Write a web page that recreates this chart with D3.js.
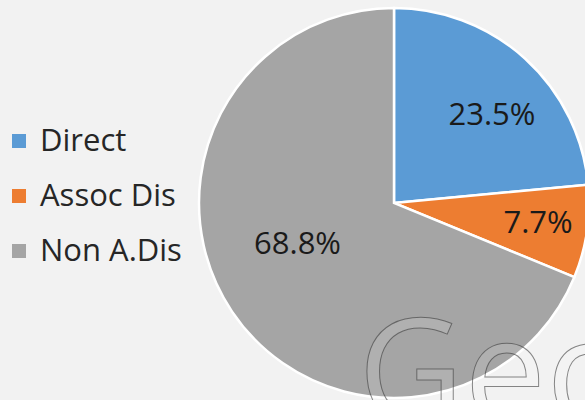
<!DOCTYPE html>
<html>
<head>
<meta charset="utf-8">
<script src="https://cdn.jsdelivr.net/npm/d3@7"></script>
<style>
  html, body { margin: 0; padding: 0; background: #f2f2f2; overflow: hidden; }
  svg { display: block; font-family: "Open Sans", "Noto Sans", sans-serif; }
</style>
</head>
<body>
<script>
// chart data
var categories = ["Direct", "Assoc Dis", "Non A.Dis"];
var shares = [23.5, 7.7, 68.8];
var colours = ["#5b9bd5", "#ed7d31", "#a5a5a5"];

var w = 585, h = 400,
    cx = 394, cy = 203,
    radius = 195;

var svg = d3.select("body").append("svg")
    .attr("width", w)
    .attr("height", h);

svg.append("rect")
    .attr("width", w)
    .attr("height", h)
    .attr("fill", "#f2f2f2");

var data = categories.map(function (c, i) { return { name: c, value: shares[i] }; });

var pie = d3.pie().sort(null).value(function (d) { return d.value; });
var arc = d3.arc().innerRadius(0).outerRadius(radius);

var g = svg.append("g").attr("transform", "translate(" + cx + "," + cy + ")");

var colour = d3.scaleOrdinal().domain(categories).range(colours);

g.selectAll("path.slice")
    .data(pie(data))
  .enter().append("path")
    .attr("class", "slice")
    .attr("d", arc)
    .attr("fill", function (d) { return colour(d.data.name); })
    .attr("stroke", "#ffffff")
    .attr("stroke-width", 2.5)
    .attr("stroke-linejoin", "miter");

/* data labels, near each slice's bisector (radius fraction, angle nudge in degrees) */
var labelRadius = [0.68, 0.745, 0.535];
var labelNudge = [5.3, -1, 11.5];
var fmt = function (v) { return v.toFixed(1) + "%"; };

g.selectAll("text.lbl")
    .data(pie(data))
  .enter().append("text")
    .attr("class", "lbl")
    .attr("text-anchor", "middle")
    .attr("font-size", 31)
    .attr("fill", "#1a1a1a")
    .attr("transform", function (d, i) {
      var a = (d.startAngle + d.endAngle) / 2 + labelNudge[i] * Math.PI / 180;
      var r = radius * labelRadius[i];
      return "translate(" + (Math.sin(a) * r) + "," + (-Math.cos(a) * r) + ")";
    })
    .attr("dy", "0.36em")
    .text(function (d) { return fmt(d.data.value); });

/* legend */
var legendY = d3.scalePoint().domain(categories).range([141, 251]);

var leg = svg.selectAll("g.legend")
    .data(categories)
  .enter().append("g")
    .attr("class", "legend")
    .attr("transform", function (d) { return "translate(0," + legendY(d) + ")"; });

leg.append("rect")
    .attr("x", 12)
    .attr("y", -7)
    .attr("width", 14)
    .attr("height", 14)
    .attr("fill", function (d) { return colour(d); });

leg.append("text")
    .attr("x", 40)
    .attr("y", 9.5)
    .attr("font-size", 31)
    .attr("fill", "#262626")
    .text(function (d) { return d; });

/* watermark */
svg.append("text")
    .attr("x", 358)
    .attr("y", 424)
    .attr("font-size", 146)
    .attr("fill", "#ffffff")
    .attr("fill-opacity", 0.12)
    .attr("stroke", "#3a3a3a")
    .attr("stroke-opacity", 0.6)
    .attr("stroke-width", 1)
    .text("Geo");
</script>
</body>
</html>
